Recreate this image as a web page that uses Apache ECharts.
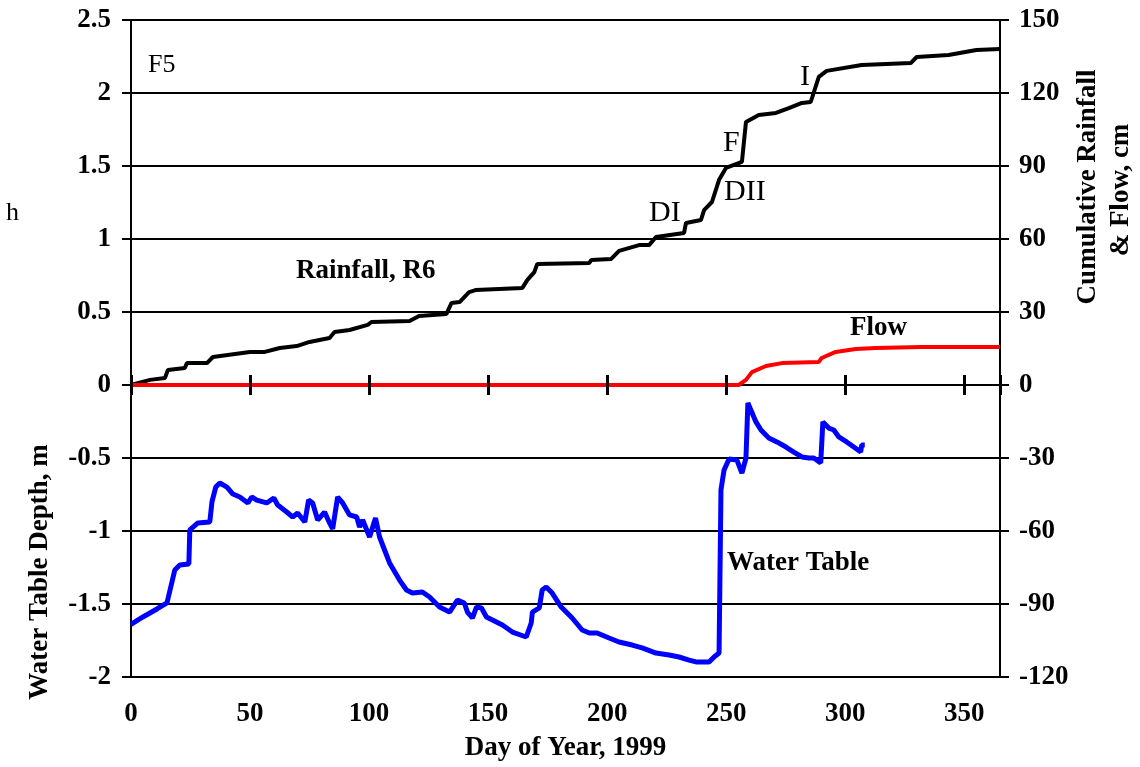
<!DOCTYPE html>
<html>
<head>
<meta charset="utf-8">
<title>Rainfall, flow and water table, 1999</title>
<script src="https://cdn.jsdelivr.net/npm/echarts@6/dist/echarts.min.js"></script>
<style>
  html, body { margin: 0; padding: 0; background: #ffffff; }
  #chart { width: 1140px; height: 767px; }
</style>
</head>
<body>
<div id="chart"></div>
<script>
// Cumulative rainfall at gauge R6 (cm, right axis)
const rainDays = [0, 8, 14.3, 15.5, 22.6, 23.5, 31.9, 34.4, 49.9, 56.2,
  62.5, 69.6, 75, 83.4, 85.5, 91.8, 99.4, 101, 117, 121,
  132.5, 134.6, 138, 142, 144.7, 164.4, 166.5, 169.4, 170.6, 192.5,
  193.3, 201.7, 205, 213.4, 217.6, 220.5, 232.3, 233.1, 239.4, 240.7,
  244, 247, 249.9, 256.6, 258.3, 263.7, 270.9, 276.3, 281.8, 285.5,
  288.9, 292.2, 306.9, 327.5, 330, 343.4, 355.1, 365];
const rainCm = [0, 2.1, 2.9, 6.2, 7.0, 9.0, 9.0, 11.5, 13.6, 13.6,
  15.2, 16.0, 17.7, 19.3, 21.8, 22.6, 24.7, 25.9, 26.3, 28.4,
  29.2, 33.7, 34.1, 38.2, 39.0, 39.9, 43.2, 46.4, 49.7, 50.1,
  51.4, 51.8, 55.1, 57.5, 57.5, 60.8, 62.5, 66.6, 67.8, 71.9,
  75.2, 84.3, 89.2, 91.7, 108.1, 111, 111.8, 113.8, 115.9, 116.3,
  126.6, 129.1, 131.5, 132.3, 134.8, 135.6, 137.7, 138.1];

// Cumulative flow (cm, right axis)
const flowDays = [0, 255.3, 258.3, 260.8, 266.7, 273.4, 288.9, 290.1, 296, 304.4, 312.8, 332, 365];
const flowCm = [0, 0, 2.1, 5.3, 7.8, 9.0, 9.5, 11.1, 13.6, 14.8, 15.2, 15.6, 15.6];

// Water table depth (m, left axis)
const wtDays = [0, 0.8, 5.0, 10.9, 15.1, 16.4, 18.4, 20.5, 24.3, 24.7,
  28.1, 33.1, 34.0, 35.6, 37.3, 40.3, 42.8, 45.7, 49.1, 50.7,
  52.8, 57.0, 60.0, 61.6, 65.4, 67.9, 70.0, 73.0, 74.6, 76.3,
  78.4, 81.3, 83.4, 84.7, 86.8, 88.9, 91.8, 94.8, 96.0, 97.3,
  100.2, 102.7, 104.4, 106.5, 108.6, 112.8, 115.7, 118.2, 122.4, 125.4,
  129.6, 133.8, 137.1, 140.0, 141.3, 143.4, 145.1, 147.2, 149.3, 151.8,
  156.0, 160.2, 166.0, 168.1, 168.6, 171.5, 172.7, 174.4, 176.9, 180.7,
  185.3, 189.5, 192.5, 195.8, 200.8, 205.0, 210.5, 214.7, 220.5, 226.0,
  230.2, 234.4, 237.3, 242.8, 244.9, 247.0, 247.8, 249.1, 251.2, 254.5,
  256.6, 258.3, 259.1, 262.5, 264.6, 267.9, 271.3, 275.1, 278.4, 281.8,
  284.7, 286.8, 289.7, 290.6, 293.1, 295.2, 297.3, 300.6, 303.6, 306.5,
  306.9, 308.2];
const wtDepth = [-1.64, -1.637, -1.589, -1.534, -1.493, -1.404, -1.267, -1.233, -1.226, -0.993,
  -0.945, -0.938, -0.801, -0.699, -0.671, -0.699, -0.747, -0.767, -0.808, -0.767,
  -0.788, -0.808, -0.774, -0.822, -0.870, -0.904, -0.877, -0.938, -0.788, -0.808,
  -0.925, -0.870, -0.945, -0.986, -0.767, -0.808, -0.890, -0.904, -0.973, -0.925,
  -1.041, -0.911, -1.041, -1.130, -1.219, -1.336, -1.404, -1.425, -1.418, -1.452,
  -1.521, -1.555, -1.473, -1.493, -1.555, -1.596, -1.521, -1.527, -1.589, -1.610,
  -1.644, -1.692, -1.726, -1.630, -1.555, -1.527, -1.404, -1.384, -1.425, -1.521,
  -1.596, -1.678, -1.699, -1.699, -1.733, -1.760, -1.781, -1.801, -1.836, -1.849,
  -1.863, -1.884, -1.897, -1.897, -1.863, -1.836, -0.719, -0.582, -0.507, -0.514,
  -0.603, -0.500, -0.123, -0.253, -0.308, -0.363, -0.390, -0.425, -0.459, -0.493,
  -0.500, -0.500, -0.534, -0.253, -0.295, -0.308, -0.356, -0.390, -0.425, -0.459,
  -0.411, -0.411];

// Axis ranges and tick spacing
const dayRange = [0, 365, 50];
const depthRange = [-2, 2.5, 0.5];
const cmRange = [-120, 150, 30];

const serif = '"Liberation Serif", "Times New Roman", Times, serif';
const pairs = (xs, ys) => xs.map((x, i) => [x, ys[i]]);

const chart = echarts.init(document.getElementById('chart'), null, { renderer: 'canvas' });

const boldLabel = { color: '#000', fontFamily: serif, fontWeight: 'bold', fontSize: 27 };
const blackLine = { color: '#000', width: 2 };

// Ticks on the zero line cross it: one axis draws the upper half, one the lower.
// The zero line itself comes from the grid lines so the flow line can sit on top of it.
function zeroTickAxis(inside) {
  return {
    type: 'value', gridIndex: 0, position: 'bottom',
    min: dayRange[0], max: dayRange[1], interval: dayRange[2],
    axisLine: { show: false, onZero: true },
    axisTick: { show: true, inside: inside, length: 10, lineStyle: { color: '#000', width: 3 } },
    axisLabel: { show: false },
    splitLine: { show: false },
    z: 5
  };
}

function label(text, x, y, font, rotation) {
  return {
    type: 'text', x: x, y: y, rotation: rotation || 0,
    style: {
      text: text, font: font, fill: '#000',
      align: rotation ? 'center' : 'left', verticalAlign: 'middle',
      textAlign: rotation ? 'center' : 'left', textVerticalAlign: 'middle'
    }
  };
}

chart.setOption({
  animation: false,
  backgroundColor: '#ffffff',
  grid: { left: 131, right: 140, top: 20, bottom: 90, containLabel: false },
  xAxis: [
    {
      type: 'value', position: 'bottom',
      min: dayRange[0], max: dayRange[1], interval: dayRange[2],
      axisLine: { show: false, onZero: false },
      axisTick: { show: false },
      splitLine: { show: false },
      axisLabel: Object.assign({}, boldLabel, {
        margin: 24,
        formatter: v => (v % 50 === 0 ? String(v) : '')
      }),
      name: 'Day of Year, 1999',
      nameLocation: 'middle',
      nameGap: 58,
      nameTextStyle: boldLabel
    },
    zeroTickAxis(true),
    zeroTickAxis(false)
  ],
  yAxis: [
    {
      type: 'value', position: 'left',
      min: depthRange[0], max: depthRange[1], interval: depthRange[2],
      axisLine: { show: true, onZero: false, lineStyle: blackLine },
      axisTick: { show: true, length: 9, lineStyle: blackLine },
      axisLabel: Object.assign({}, boldLabel, { margin: 20 }),
      splitLine: { show: true, lineStyle: blackLine }
    },
    {
      type: 'value', position: 'right',
      min: cmRange[0], max: cmRange[1], interval: cmRange[2],
      axisLine: { show: true, onZero: false, lineStyle: blackLine },
      axisTick: { show: true, length: 9, lineStyle: blackLine },
      axisLabel: Object.assign({}, boldLabel, { margin: 19 }),
      splitLine: { show: false }
    }
  ],
  series: [
    {
      name: 'Rainfall, R6', type: 'line', xAxisIndex: 0, yAxisIndex: 1,
      data: pairs(rainDays, rainCm), showSymbol: false,
      lineStyle: { color: '#000', width: 4 }, z: 3
    },
    {
      name: 'Flow', type: 'line', xAxisIndex: 0, yAxisIndex: 1,
      data: pairs(flowDays, flowCm), showSymbol: false,
      lineStyle: { color: '#ff0000', width: 4 }, z: 3
    },
    {
      name: 'Water Table', type: 'line', xAxisIndex: 0, yAxisIndex: 0,
      data: pairs(wtDays, wtDepth), showSymbol: false,
      lineStyle: { color: '#0000ff', width: 5 }, z: 3
    }
  ],
  graphic: [
    // axis titles
    label('Water Table Depth, m', 40, 572, 'bold 27px ' + serif, Math.PI / 2),
    label('Cumulative Rainfall', 1088, 187, 'bold 27px ' + serif, Math.PI / 2),
    label('& Flow, cm', 1121, 190, 'bold 27px ' + serif, Math.PI / 2),
    label('h', 6, 213, '26px ' + serif),
    // plot annotations
    label('F5', 148, 65, '26px ' + serif),
    label('Rainfall, R6', 296, 271, 'bold 27px ' + serif),
    label('DI', 649, 213, '30px ' + serif),
    label('DII', 724, 192, '30px ' + serif),
    label('F', 723, 143, '30px ' + serif),
    label('I', 800, 77, '30px ' + serif),
    label('Flow', 850, 328, 'bold 27px ' + serif),
    label('Water Table', 727, 563, 'bold 27px ' + serif)
  ]
});
</script>
</body>
</html>
